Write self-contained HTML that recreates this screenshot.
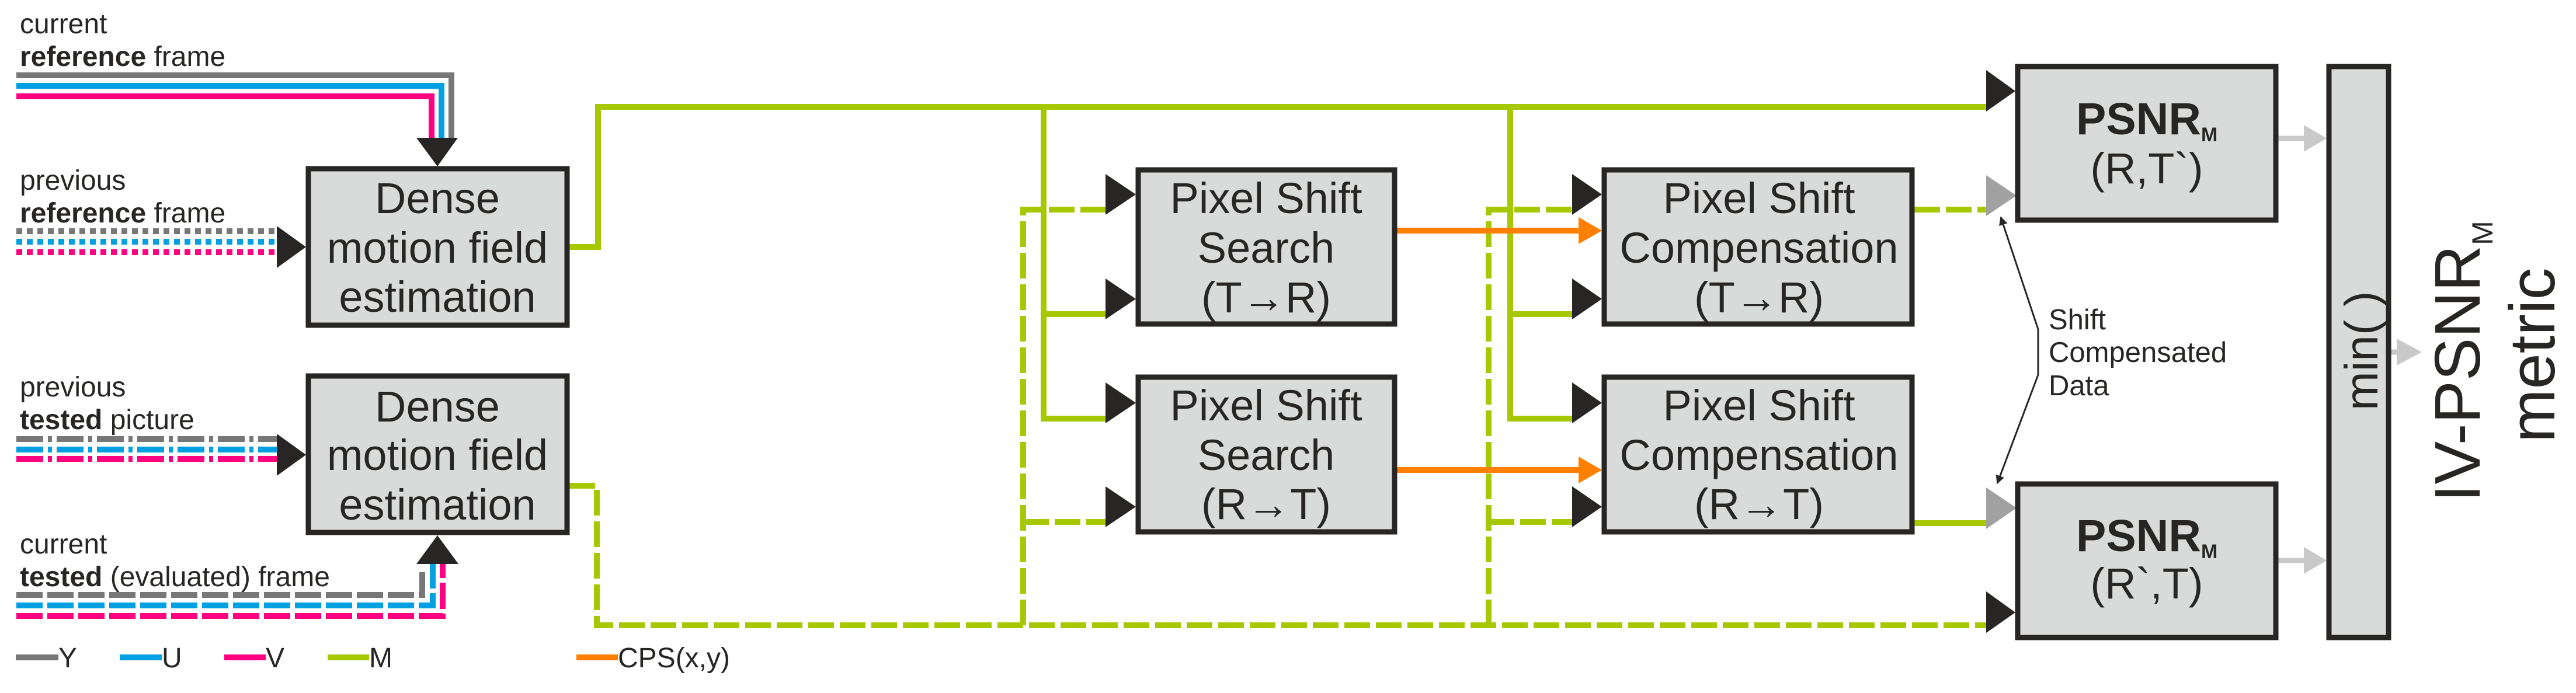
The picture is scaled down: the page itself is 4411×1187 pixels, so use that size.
<!DOCTYPE html>
<html><head><meta charset="utf-8"><style>html,body{margin:0;padding:0;background:#fff}svg{display:block}</style></head><body>
<svg width="4411" height="1187" viewBox="0 0 4411 1187" xmlns="http://www.w3.org/2000/svg" font-family="Liberation Sans, sans-serif">
<defs>
<marker id="ah" viewBox="0 0 10 10" refX="9" refY="5" markerWidth="5" markerHeight="5" orient="auto-start-reverse"><path d="M0,0L10,5L0,10z" fill="#272624"/></marker>
</defs>
<g fill="none" stroke-width="10">
<!-- current reference frame -->
<path d="M28,129H773V240" stroke="#777"/>
<path d="M28,147H756V240" stroke="#00a0e3"/>
<path d="M28,165H739V240" stroke="#ff0080"/>
<!-- previous reference dotted -->
<g stroke-dasharray="10 8">
<path d="M28,396H475" stroke="#777"/>
<path d="M28,414H475" stroke="#00a0e3"/>
<path d="M28,432H475" stroke="#ff0080"/>
</g>
<!-- previous tested dash-dot -->
<g stroke-dasharray="46 8 7 8">
<path d="M28,752H475" stroke="#777"/>
<path d="M28,770H475" stroke="#00a0e3"/>
<path d="M28,786H475" stroke="#ff0080"/>
</g>
<!-- current tested dashed -->
<g stroke-dasharray="45 8">
<path d="M28,1019H723V972" stroke="#777"/>
<path d="M28,1037H741V966" stroke="#00a0e3"/>
<path d="M28,1055H758V966" stroke="#ff0080"/>
</g>
<!-- green solid -->
<g stroke="#a6c800">
<path d="M975,423H1024V183H3405"/>
<path d="M1787,183V717H1895M1787,538H1895"/>
<path d="M2586,183V717H2694M2586,538H2694"/>
<path d="M3278,896H3405"/>
</g>
<!-- green dashed -->
<g stroke="#a6c800" stroke-dasharray="44 10">
<path d="M975,832H1022V1071H3405"/>
<path d="M1752,1071V359H1895"/>
<path d="M1752,894H1895"/>
<path d="M2549,1071V359H2694"/>
<path d="M2549,894H2694"/>
<path d="M3278,359H3405"/>
</g>
<!-- orange -->
<g stroke="#ff8000">
<path d="M2392,395H2710"/>
<path d="M2392,805H2710"/>
</g>
<!-- gray outputs -->
<g stroke="#c8c9c8" stroke-width="9">
<path d="M3901,237H3950"/>
<path d="M3901,960H3950"/>
<path d="M4094,603H4112"/>
</g>
</g>
<!-- arrowheads -->
<g fill="#272624">
<path d="M713,236L784,236L749,285z"/>
<path d="M474,743L524,779L474,815z"/>
<path d="M474,387L524,423L474,459z"/>
<path d="M713,966L785,966L749,917z"/>
<path d="M1893,298L1945,333L1893,368z"/>
<path d="M1893,477L1945,512L1893,547z"/>
<path d="M1893,655L1945,690L1893,725z"/>
<path d="M1893,833L1945,868L1893,903z"/>
<path d="M2692,298L2743,333L2692,368z"/>
<path d="M2692,477L2743,512L2692,547z"/>
<path d="M2692,655L2743,690L2692,725z"/>
<path d="M2692,833L2743,868L2692,903z"/>
<path d="M3401,120L3451,156L3401,191z"/>
<path d="M3401,1013L3451,1049L3401,1084z"/>
</g>
<g fill="#ff8000">
<path d="M2703,372L2743,395L2703,418z"/>
<path d="M2703,782L2743,805L2703,828z"/>
</g>
<g fill="#a0a1a0">
<path d="M3401,300L3453,335L3401,370z"/>
<path d="M3401,835L3453,870L3401,906z"/>
</g>
<g fill="#c8c9c8">
<path d="M3945,214L3984,237L3945,260z"/>
<path d="M3945,937L3984,960L3945,983z"/>
<path d="M4104,580L4147,603L4104,626z"/>
</g>
<!-- boxes -->
<g fill="#d9dbda" stroke="#272624" stroke-width="9">
<rect x="528" y="289" width="443" height="268"/>
<rect x="528" y="644" width="443" height="268"/>
<rect x="1949" y="291" width="439" height="264"/>
<rect x="1949" y="646" width="439" height="265"/>
<rect x="2747" y="291" width="527" height="264"/>
<rect x="2747" y="646" width="527" height="265"/>
<rect x="3455" y="114" width="442" height="263"/>
<rect x="3455" y="829" width="442" height="263"/>
<rect x="3988" y="114" width="102" height="978"/>
</g>
<!-- shift compensated double arrow -->
<path d="M3426,372L3490,564V642L3420,828" fill="none" stroke="#272624" stroke-width="3" marker-start="url(#ah)" marker-end="url(#ah)"/>
<!-- text -->
<g fill="#272624">
<g font-size="48">
<text x="34" y="57">current</text>
<text x="34" y="113"><tspan font-weight="bold">reference</tspan> frame</text>
<text x="34" y="325">previous</text>
<text x="34" y="381"><tspan font-weight="bold">reference</tspan> frame</text>
<text x="34" y="679">previous</text>
<text x="34" y="735"><tspan font-weight="bold">tested</tspan> picture</text>
<text x="34" y="948">current</text>
<text x="34" y="1004"><tspan font-weight="bold">tested</tspan> (evaluated) frame</text>
<text x="100" y="1143">Y</text>
<text x="277" y="1143">U</text>
<text x="455" y="1143">V</text>
<text x="632" y="1143">M</text>
<text x="1058" y="1143">CPS(x,y)</text>
</g>
<g font-size="74" text-anchor="middle">
<text x="749" y="365">Dense</text>
<text x="749" y="450">motion field</text>
<text x="749" y="534">estimation</text>
<text x="749" y="722">Dense</text>
<text x="749" y="805">motion field</text>
<text x="749" y="890">estimation</text>
<text x="2168" y="365">Pixel Shift</text>
<text x="2168" y="450">Search</text>
<text x="2168" y="535">(T→R)</text>
<text x="2168" y="720">Pixel Shift</text>
<text x="2168" y="805">Search</text>
<text x="2168" y="889">(R→T)</text>
<text x="3012" y="365">Pixel Shift</text>
<text x="3012" y="450">Compensation</text>
<text x="3012" y="535">(T→R)</text>
<text x="3012" y="720">Pixel Shift</text>
<text x="3012" y="805">Compensation</text>
<text x="3012" y="889">(R→T)</text>
<text x="3676" y="314">(R,T`)</text>
<text x="3676" y="1025">(R`,T)</text>
</g>
<text x="3555" y="230" font-size="77" font-weight="bold">PSNR<tspan font-size="34" dy="12">M</tspan></text>
<text x="3555" y="944" font-size="77" font-weight="bold">PSNR<tspan font-size="34" dy="12">M</tspan></text>
<g font-size="49">
<text x="3508" y="564">Shift</text>
<text x="3508" y="620">Compensated</text>
<text x="3508" y="677">Data</text>
</g>
<text transform="translate(4071,703) rotate(-90)" font-size="80">min( )</text>
<text transform="translate(4246,860) rotate(-90)" font-size="110">IV-PSNR<tspan font-size="50" dy="22">M</tspan></text>
<text transform="translate(4374,758) rotate(-90)" font-size="110">metric</text>
</g>
<!-- legend bars -->
<g stroke-width="10" fill="none">
<path d="M27,1126H100" stroke="#777"/>
<path d="M205,1126H277" stroke="#00a0e3"/>
<path d="M384,1126H455" stroke="#ff0080"/>
<path d="M561,1126H632" stroke="#a6c800"/>
<path d="M987,1126H1058" stroke="#ff8000"/>
</g>
</svg>
</body></html>
